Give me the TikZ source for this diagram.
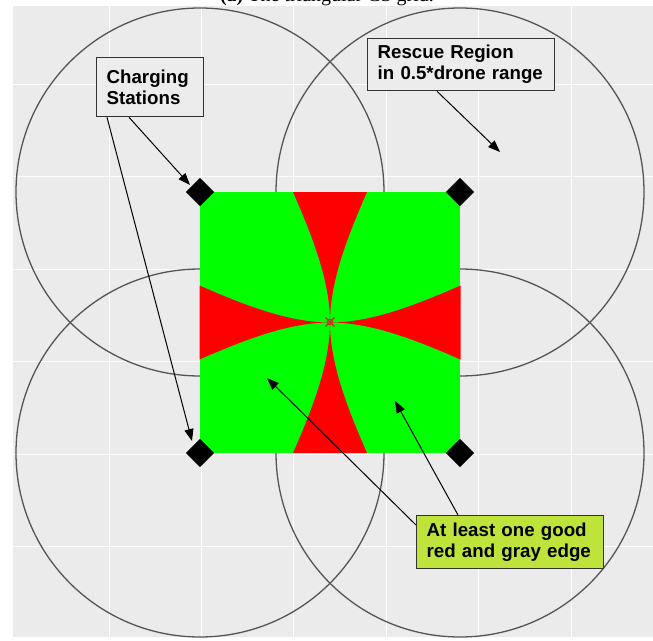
\documentclass[tikz,border=0pt]{standalone}
\usepackage{fontspec}
\setmainfont{Liberation Serif}
\newfontfamily\lblfont{Liberation Sans}
\usetikzlibrary{arrows.meta,calc}
\definecolor{panelbg}{RGB}{235,235,235}
\definecolor{circlegray}{RGB}{85,85,85}
\definecolor{gridgreen}{RGB}{0,255,0}
\definecolor{gridred}{RGB}{255,0,0}
\definecolor{markred}{RGB}{205,45,45}
\definecolor{notegreen}{RGB}{190,228,60}
\definecolor{boxgray}{RGB}{236,236,236}
\definecolor{boxedge}{RGB}{50,50,50}
\begin{document}
\begin{tikzpicture}[x=1pt,y=-1pt,
  rangecircle/.style={draw=circlegray, line width=1.3pt},
  gridline/.style={draw=white, line width=0.9pt},
  station/.style={fill=black, rotate=45, minimum size=20pt, inner sep=0pt, draw=none},
  labelbox/.style={draw=boxedge, line width=1.3pt, fill=boxgray, anchor=north west,
    inner xsep=10pt, inner ysep=0pt, align=left,
    font=\lblfont\bfseries\fontsize{18.7}{21}\selectfont},
  pointer/.style={-{Triangle[length=12pt,width=9pt]}, line width=1pt, black},
]
\useasboundingbox (0,0) rectangle (653,640);
% caption (cut off at top)
\node[font=\fontsize{20}{24}\selectfont, anchor=base, inner sep=0pt] (cap) at (327,1.5) {\textbf{(a)} The triangular CS grid.};
% panel
\fill[panelbg] (13,6) rectangle (653,637);
\foreach \gx in {109,201.4,293.8,386.2,478.6,571}
  \draw[gridline] (\gx,6) -- (\gx,637);
\foreach \gy in {84.5,176.9,269.3,361.7,454.1,546.5}
  \draw[gridline] (13,\gy) -- (653,\gy);
% range circles
\draw[rangecircle] (200,192) circle[radius=184];
\draw[rangecircle] (460,192) circle[radius=184];
\draw[rangecircle] (200,453) circle[radius=184];
\draw[rangecircle] (460,453) circle[radius=184];
% square
\fill[gridgreen] (200,192) rectangle (460,453);
\foreach \ang in {0,90,180,270}
  \fill[gridred, shift={(330,322.5)}, rotate=\ang]
    (0,0) .. controls (0,-42) and (-18,-87) .. (-37,-130.5) -- (37,-130.5)
    .. controls (18,-87) and (0,-42) .. cycle;
% center marker
\coordinate (ctr) at (330,322);
\draw[markred, line width=1.2pt] (ctr) circle[radius=2.6];
\draw[markred, line width=1.2pt] ($(ctr)+(-4.5,-4.5)$) -- ($(ctr)+(4.5,4.5)$);
\draw[markred, line width=1.2pt] ($(ctr)+(-4.5,4.5)$) -- ($(ctr)+(4.5,-4.5)$);
% stations
\node[station] (s1) at (200,192) {};
\node[station] (s2) at (460,192) {};
\node[station] (s3) at (200,453) {};
\node[station] (s4) at (460,453) {};
% label boxes
\node[labelbox, text width=87pt, minimum height=59pt] (cs) at (96,57) {Charging\\Stations};
\node[labelbox, text width=167pt, minimum height=52pt] (rr) at (367,38) {Rescue Region\\in 0.5*drone range};
\node[labelbox, fill=notegreen, text width=167pt, minimum height=53pt] (gb) at (416,515) {At least one good\\red and gray edge};
% arrow targets
\coordinate (t1) at (190,185);
\coordinate (t2) at (192,441);
\coordinate (rt) at (500,152);
\coordinate (g1) at (267,378);
\coordinate (g2) at (395,401);
% arrows
\draw[pointer] ([xshift=33pt]cs.south west) -- (t1);
\draw[pointer] ([xshift=11pt]cs.south west) -- (t2);
\draw[pointer] ([xshift=70pt]rr.south west) -- (rt);
\draw[pointer] ([yshift=-10pt]gb.north west) -- (g1);
\draw[pointer] ([xshift=42pt]gb.north west) -- (g2);
\end{tikzpicture}
\end{document}
